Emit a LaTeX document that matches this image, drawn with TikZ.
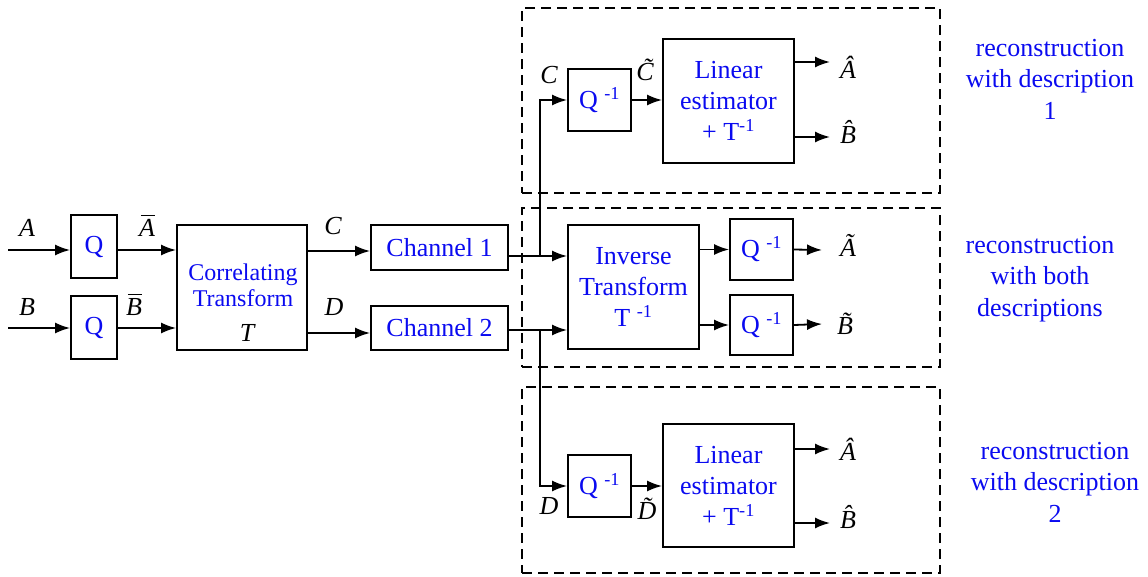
\documentclass[tikz,border=0pt]{standalone}
\usepackage{fontspec}
\setmainfont{Liberation Serif}
\usetikzlibrary{arrows.meta}
\definecolor{txtblue}{RGB}{10,10,240}
\newcommand{\barlet}[1]{#1\llap{\rule[20.5pt]{14pt}{1.4pt}}}
\begin{document}
\begin{tikzpicture}[x=1pt,y=-1pt,
 every node/.style={font=\fontsize{26}{31}\selectfont},
 blk/.style={draw, line width=1.8pt, inner sep=0pt, text=txtblue, align=center},
 grp/.style={draw, dash pattern=on 10pt off 6pt, line width=1.8pt, inner sep=0pt},
 arr/.style={line width=1.8pt, -{Latex[length=15pt,width=11pt]}},
 lbl/.style={inner sep=0pt, font=\fontsize{26}{28}\selectfont\itshape},
 note/.style={text=txtblue, align=center, font=\fontsize{26}{31.5}\selectfont}]
\useasboundingbox (0,0) rectangle (1148,576);

% dashed groups
\node[grp, minimum width=418pt, minimum height=185pt] (g1) at (731,100.5) {};
\node[grp, minimum width=418pt, minimum height=159pt] (g2) at (731,287.5) {};
\node[grp, minimum width=418pt, minimum height=186pt] (g3) at (731,480) {};

% blocks
\node[blk, minimum width=46pt, minimum height=63pt] (q1) at (94,246.5) {Q};
\node[blk, minimum width=46pt, minimum height=63pt] (q2) at (94,327.5) {Q};
\node[blk, minimum width=130pt, minimum height=125pt] (ct) at (242,287.5) {};
\node[text=txtblue, align=center, font=\fontsize{24}{26}\selectfont] (ctt) at (243,285.5) {Correlating\\Transform};
\node[lbl] (tT) at (247,333) {T};
\node[blk, minimum width=137pt, minimum height=45pt] (ch1) at (439.5,247.5) {Channel 1};
\node[blk, minimum width=137pt, minimum height=44pt] (ch2) at (439.5,328) {Channel 2};
\node[blk, minimum width=131pt, minimum height=124pt] (it) at (633.5,287) {Inverse\\Transform\\T \textsuperscript{-1}};
\node[blk, minimum width=63pt, minimum height=61pt] (qa) at (761.5,249.5) {Q \textsuperscript{-1}};
\node[blk, minimum width=63pt, minimum height=60pt] (qb) at (761.5,325) {Q \textsuperscript{-1}};
\node[blk, minimum width=63pt, minimum height=62pt] (qt) at (599.5,100) {Q \textsuperscript{-1}};
\node[blk, minimum width=131pt, minimum height=124pt] (lt) at (728.5,101) {Linear\\estimator\\+ T\textsuperscript{-1}};
\node[blk, minimum width=63pt, minimum height=62pt] (qd) at (599.5,486) {Q \textsuperscript{-1}};
\node[blk, minimum width=131pt, minimum height=123pt] (ld) at (728.5,485.5) {Linear\\estimator\\+ T\textsuperscript{-1}};

% coordinates
\coordinate (inA) at (8,250);
\coordinate (inB) at (8,328);
\coordinate (yA) at (0,250);
\coordinate (yB) at (0,328);
\coordinate (yC) at (0,251);
\coordinate (yD) at (0,333);
\coordinate (j1) at (540,256);
\coordinate (j2) at (540,330);
\coordinate (a1) at (830,62);
\coordinate (b1) at (830,137);
\coordinate (a2) at (822,250);
\coordinate (b2) at (822,324);
\coordinate (a3) at (830,449);
\coordinate (b3) at (830,523);

% connectors
\draw[arr] (inA) -- (inA -| q1.west);
\draw[arr] (inB) -- (inB -| q2.west);
\draw[arr] (q1.east |- yA) -- (ct.west |- yA);
\draw[arr] (q2.east |- yB) -- (ct.west |- yB);
\draw[arr] (ct.east |- yC) -- (ch1.west |- yC);
\draw[arr] (ct.east |- yD) -- (ch2.west |- yD);
\draw[arr] (ch1.east |- j1) -- (it.west |- j1);
\draw[arr] (ch2.east |- j2) -- (it.west |- j2);
\draw[arr] (j1) |- (qt.west);
\draw[arr] (j2) |- (qd.west);
\draw[arr] (qt.east) -- (qt.east -| lt.west);
\draw[arr] (qd.east) -- (qd.east -| ld.west);
\draw[arr] (lt.east |- a1) -- (a1);
\draw[arr] (lt.east |- b1) -- (b1);
\draw[arr] (it.east |- qa.west) -- (qa.west);
\draw[arr] (it.east |- qb.west) -- (qb.west);
\draw[arr] (qa.east) -- (a2);
\draw[arr] (qb.east) -- (b2);
\draw[arr] (ld.east |- a3) -- (a3);
\draw[arr] (ld.east |- b3) -- (b3);

% signal labels
\node[lbl] (lA) at (27,228) {A};
\node[lbl] (lB) at (27,307) {B};
\node[lbl] (lAb) at (147,226) {\barlet{A}};
\node[lbl] (lBb) at (134,305) {\barlet{B}};
\node[lbl] (lC) at (333,226) {C};
\node[lbl] (lD) at (334,307) {D};
\node[lbl] (lC1) at (549,75) {C};
\node[lbl] (lCt) at (645,70) {\~{C}};
\node[lbl] (lAh1) at (848,67) {\^{A}};
\node[lbl] (lBh1) at (848,132) {\^{B}};
\node[lbl] (lAt) at (848,245) {\~{A}};
\node[lbl] (lBt) at (845,324) {\~{B}};
\node[lbl] (lD1) at (549,506) {D};
\node[lbl] (lDt) at (647,509) {\~{D}};
\node[lbl] (lAh3) at (848,449) {\^{A}};
\node[lbl] (lBh3) at (848,517) {\^{B}};

% notes
\node[note] (n1) at (1050,79) {reconstruction\\with description\\1};
\node[note] (n2) at (1040,279) {reconstruction\\with both\\descriptions};
\node[note] (n3) at (1055,482) {reconstruction\\with description\\2};
\end{tikzpicture}
\end{document}
